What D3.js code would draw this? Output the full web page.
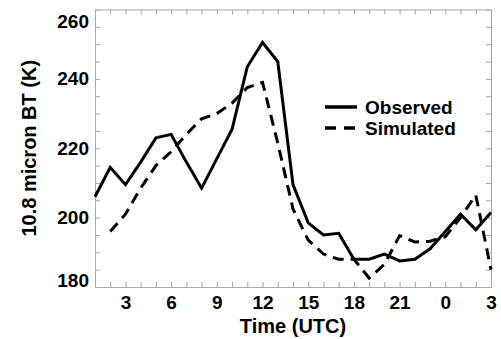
<!DOCTYPE html>
<html>
<head>
<meta charset="utf-8">
<script src="https://cdn.jsdelivr.net/npm/d3@7"></script>
<style>
  body { margin: 0; background: #fff; }
  svg text { font-family: "Liberation Sans", Arial, sans-serif; font-weight: bold; fill: #000; }
</style>
</head>
<body>
<div id="chart"></div>
<script>
// hour of the run (1 .. 27, i.e. 01 UTC to 03 UTC next day)
const hours = [1, 2, 3, 4, 5, 6, 7, 8, 9, 10, 11, 12, 13, 14, 15, 16, 17, 18, 19, 20, 21, 22, 23, 24, 25, 26, 27];
const observed = [206, 214.5, 209.5, 216, 223, 224, 216, 208.5, 217, 225.5, 243.5, 250.5, 245, 209.5, 198.5, 195, 195.5, 188, 188, 189.5, 187.5, 188, 191, 196, 201, 196.5, 201.5];
const simulated = [null, 196, 201, 208.5, 215, 219, 224, 228.5, 230, 233, 237.5, 239, 221.5, 202.5, 193.5, 189.5, 188, 188, 182.6, 186.5, 194.8, 193, 193.2, 194.5, 200, 206.5, 185];
const xTickValues = [3, 6, 9, 12, 15, 18, 21, 24, 27];
const xTickLabels = ["3", "6", "9", "12", "15", "18", "21", "0", "3"];
const yTickValues = [180, 200, 220, 240, 260];
const legendNames = ["Observed", "Simulated"];

const W = 501, H = 339;
const margin = { top: 9.5, right: 10, bottom: 52, left: 95 };
const width = W - margin.left - margin.right,
  height = H - margin.top - margin.bottom;

const svg = d3.select("#chart").append("svg")
  .attr("width", W)
  .attr("height", H);

const g = svg.append("g")
  .attr("transform", "translate(" + margin.left + "," + margin.top + ")");

const x = d3.scaleLinear().domain([1, 27]).range([0, width]);
const y = d3.scaleLinear().domain([180, 260]).range([height, 0]);

const axisColor = "#a8a8a8";
const tickLen = 5;

// minor ticks on all four sides, pointing inwards
const minorX = d3.range(1, 28);
const minorY = d3.range(180, 261, 5);

const frame = g.append("g");
frame.append("g").attr("transform", "translate(0," + height + ")")
  .call(d3.axisBottom(x).tickValues(minorX).tickSize(-tickLen).tickSizeOuter(0).tickFormat(""));
frame.append("g")
  .call(d3.axisTop(x).tickValues(minorX).tickSize(-tickLen).tickSizeOuter(0).tickFormat(""));
frame.append("g")
  .call(d3.axisLeft(y).tickValues(minorY).tickSize(-tickLen).tickSizeOuter(0).tickFormat(""));
frame.append("g").attr("transform", "translate(" + width + ",0)")
  .call(d3.axisRight(y).tickValues(minorY).tickSize(-tickLen).tickSizeOuter(0).tickFormat(""));
frame.selectAll(".domain, .tick line").attr("stroke", axisColor).attr("stroke-width", 1);

// tick labels
const xl = g.append("g").attr("transform", "translate(0," + height + ")")
  .call(d3.axisBottom(x).tickValues(xTickValues).tickSize(0).tickPadding(9)
    .tickFormat((d, i) => xTickLabels[i]));
xl.select(".domain").remove();
xl.selectAll("text").style("font-size", "19px");

const yl = g.append("g")
  .call(d3.axisLeft(y).tickValues(yTickValues).tickSize(0).tickPadding(6));
yl.select(".domain").remove();
yl.selectAll("text").style("font-size", "19px")
  .attr("dy", d => d === 260 ? "0.95em" : d === 180 ? "-0.05em" : "0.32em");

// axis titles
svg.append("text")
  .attr("x", margin.left + width / 2)
  .attr("y", 333)
  .attr("text-anchor", "middle")
  .style("font-size", "20px")
  .text("Time (UTC)");

svg.append("text")
  .attr("transform", "translate(36," + (margin.top + height / 2) + ") rotate(-90)")
  .attr("text-anchor", "middle")
  .style("font-size", "20px")
  .text("10.8 micron BT (K)");

// series
const line = d3.line()
  .defined(d => d[1] != null)
  .x(d => x(d[0]))
  .y(d => y(d[1]));

g.append("path")
  .datum(hours.map((h, i) => [h, observed[i]]))
  .attr("fill", "none")
  .attr("stroke", "#000")
  .attr("stroke-width", 3)
  .attr("d", line);

g.append("path")
  .datum(hours.map((h, i) => [h, simulated[i]]))
  .attr("fill", "none")
  .attr("stroke", "#000")
  .attr("stroke-width", 3)
  .attr("stroke-dasharray", "11,7")
  .attr("d", line);

// legend
const rowGap = 21;
const legend = svg.append("g").attr("transform", "translate(325,107)");
legendNames.forEach((name, i) => {
  legend.append("line")
    .attr("x1", 0).attr("x2", 32)
    .attr("y1", i * rowGap).attr("y2", i * rowGap)
    .attr("stroke", "#000")
    .attr("stroke-width", 3.5)
    .attr("stroke-dasharray", i === 1 ? "11,8" : null);
  legend.append("text")
    .attr("x", 40)
    .attr("y", i * rowGap)
    .attr("dy", "0.35em")
    .style("font-size", "19px")
    .text(name);
});
</script>
</body>
</html>
